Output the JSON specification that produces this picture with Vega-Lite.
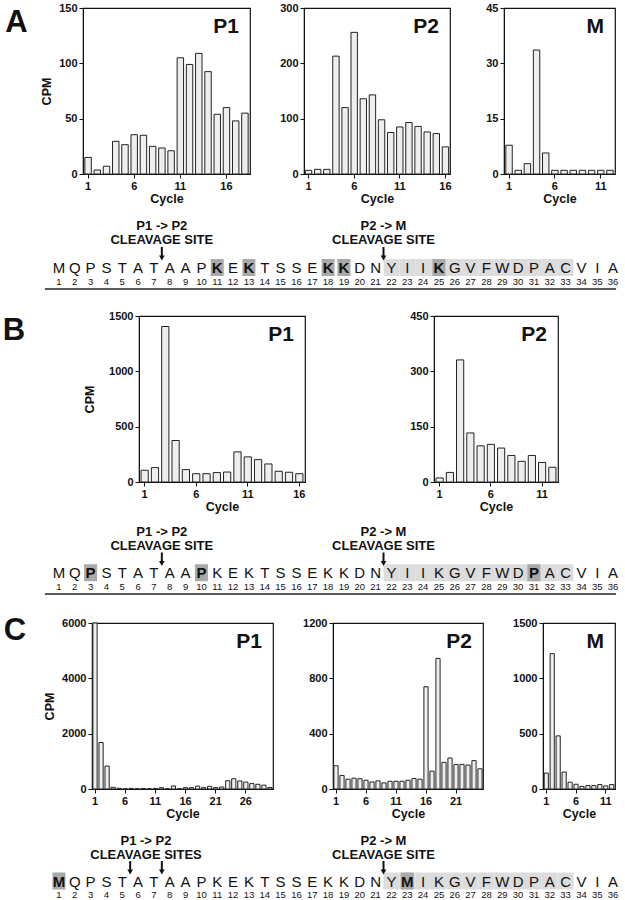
{
"$schema": "https://vega.github.io/schema/vega-lite/v6.json",
"padding": {"left": 0, "top": 1, "right": 0, "bottom": 0},
"background": "white",
"config": {
 "view": {"stroke": "#111", "strokeWidth": 1.2},
 "font": "Liberation Sans",
 "axis": {"labelFont": "Liberation Sans", "labelFontSize": 11, "labelFontWeight": "bold", "labelColor": "#111", "titleFont": "Liberation Sans", "titleFontSize": 12.5, "titleFontWeight": "bold", "titleColor": "#111", "tickColor": "#111", "domainColor": "#111", "tickSize": 4, "labelPadding": 2, "grid": false},
 "axisX": {"titlePadding": 1, "labelAngle": 0},
 "axisY": {"titlePadding": 5},
 "title": {"anchor": "end", "frame": "group", "fontSize": 21, "fontWeight": "bold", "font": "Liberation Sans", "offset": -35, "dx": -11, "baseline": "alphabetic", "color": "#111"},
 "text": {"font": "Liberation Sans", "color": "#111"}
},
"datasets": {
 "A_P1": [{"cycle":1,"cpm":15},{"cycle":2,"cpm":3.6},{"cycle":3,"cpm":7},{"cycle":4,"cpm":29.5},{"cycle":5,"cpm":26.5},{"cycle":6,"cpm":35.5},{"cycle":7,"cpm":35},{"cycle":8,"cpm":25},{"cycle":9,"cpm":23.5},{"cycle":10,"cpm":21},{"cycle":11,"cpm":105},{"cycle":12,"cpm":99},{"cycle":13,"cpm":109},{"cycle":14,"cpm":92.5},{"cycle":15,"cpm":54},{"cycle":16,"cpm":60},{"cycle":17,"cpm":48},{"cycle":18,"cpm":55}],
 "A_P2": [{"cycle":1,"cpm":6.6},{"cycle":2,"cpm":8.4},{"cycle":3,"cpm":8.4},{"cycle":4,"cpm":213},{"cycle":5,"cpm":120},{"cycle":6,"cpm":256},{"cycle":7,"cpm":136},{"cycle":8,"cpm":143},{"cycle":9,"cpm":98},{"cycle":10,"cpm":75},{"cycle":11,"cpm":85},{"cycle":12,"cpm":93},{"cycle":13,"cpm":86},{"cycle":14,"cpm":76},{"cycle":15,"cpm":73},{"cycle":16,"cpm":49}],
 "A_M": [{"cycle":1,"cpm":7.8},{"cycle":2,"cpm":1},{"cycle":3,"cpm":2.8},{"cycle":4,"cpm":33.6},{"cycle":5,"cpm":5.7},{"cycle":6,"cpm":1},{"cycle":7,"cpm":1},{"cycle":8,"cpm":1},{"cycle":9,"cpm":1},{"cycle":10,"cpm":1},{"cycle":11,"cpm":1},{"cycle":12,"cpm":1}],
 "B_P1": [{"cycle":1,"cpm":106},{"cycle":2,"cpm":130},{"cycle":3,"cpm":1405},{"cycle":4,"cpm":375},{"cycle":5,"cpm":112},{"cycle":6,"cpm":75},{"cycle":7,"cpm":75},{"cycle":8,"cpm":85},{"cycle":9,"cpm":90},{"cycle":10,"cpm":272},{"cycle":11,"cpm":227},{"cycle":12,"cpm":202},{"cycle":13,"cpm":163},{"cycle":14,"cpm":97},{"cycle":15,"cpm":88},{"cycle":16,"cpm":75}],
 "B_P2": [{"cycle":1,"cpm":11},{"cycle":2,"cpm":26},{"cycle":3,"cpm":331},{"cycle":4,"cpm":133},{"cycle":5,"cpm":98},{"cycle":6,"cpm":102},{"cycle":7,"cpm":92},{"cycle":8,"cpm":72},{"cycle":9,"cpm":56},{"cycle":10,"cpm":72},{"cycle":11,"cpm":53},{"cycle":12,"cpm":40}],
 "C_P1": [{"cycle":1,"cpm":6000},{"cycle":2,"cpm":1680},{"cycle":3,"cpm":830},{"cycle":4,"cpm":60},{"cycle":5,"cpm":25},{"cycle":6,"cpm":8},{"cycle":7,"cpm":20},{"cycle":8,"cpm":8},{"cycle":9,"cpm":20},{"cycle":10,"cpm":8},{"cycle":11,"cpm":20},{"cycle":12,"cpm":48},{"cycle":13,"cpm":8},{"cycle":14,"cpm":109},{"cycle":15,"cpm":8},{"cycle":16,"cpm":48},{"cycle":17,"cpm":48},{"cycle":18,"cpm":105},{"cycle":19,"cpm":50},{"cycle":20,"cpm":97},{"cycle":21,"cpm":50},{"cycle":22,"cpm":72},{"cycle":23,"cpm":300},{"cycle":24,"cpm":370},{"cycle":25,"cpm":290},{"cycle":26,"cpm":250},{"cycle":27,"cpm":195},{"cycle":28,"cpm":170},{"cycle":29,"cpm":140},{"cycle":30,"cpm":55}],
 "C_P2": [{"cycle":1,"cpm":168},{"cycle":2,"cpm":98},{"cycle":3,"cpm":71},{"cycle":4,"cpm":78},{"cycle":5,"cpm":74},{"cycle":6,"cpm":63},{"cycle":7,"cpm":51},{"cycle":8,"cpm":59},{"cycle":9,"cpm":44},{"cycle":10,"cpm":56},{"cycle":11,"cpm":56},{"cycle":12,"cpm":56},{"cycle":13,"cpm":63},{"cycle":14,"cpm":76},{"cycle":15,"cpm":71},{"cycle":16,"cpm":739},{"cycle":17,"cpm":129},{"cycle":18,"cpm":944},{"cycle":19,"cpm":193},{"cycle":20,"cpm":224},{"cycle":21,"cpm":178},{"cycle":22,"cpm":178},{"cycle":23,"cpm":173},{"cycle":24,"cpm":205},{"cycle":25,"cpm":146}],
 "C_M": [{"cycle":1,"cpm":144},{"cycle":2,"cpm":1223},{"cycle":3,"cpm":480},{"cycle":4,"cpm":153},{"cycle":5,"cpm":61},{"cycle":6,"cpm":43},{"cycle":7,"cpm":24},{"cycle":8,"cpm":31},{"cycle":9,"cpm":31},{"cycle":10,"cpm":40},{"cycle":11,"cpm":28},{"cycle":12,"cpm":40}],
 "resA": [{"pos":1,"aa":"M","hl":0,"mature":0},{"pos":2,"aa":"Q","hl":0,"mature":0},{"pos":3,"aa":"P","hl":0,"mature":0},{"pos":4,"aa":"S","hl":0,"mature":0},{"pos":5,"aa":"T","hl":0,"mature":0},{"pos":6,"aa":"A","hl":0,"mature":0},{"pos":7,"aa":"T","hl":0,"mature":0},{"pos":8,"aa":"A","hl":0,"mature":0},{"pos":9,"aa":"A","hl":0,"mature":0},{"pos":10,"aa":"P","hl":0,"mature":0},{"pos":11,"aa":"K","hl":1,"mature":0},{"pos":12,"aa":"E","hl":0,"mature":0},{"pos":13,"aa":"K","hl":1,"mature":0},{"pos":14,"aa":"T","hl":0,"mature":0},{"pos":15,"aa":"S","hl":0,"mature":0},{"pos":16,"aa":"S","hl":0,"mature":0},{"pos":17,"aa":"E","hl":0,"mature":0},{"pos":18,"aa":"K","hl":1,"mature":0},{"pos":19,"aa":"K","hl":1,"mature":0},{"pos":20,"aa":"D","hl":0,"mature":0},{"pos":21,"aa":"N","hl":0,"mature":0},{"pos":22,"aa":"Y","hl":0,"mature":1},{"pos":23,"aa":"I","hl":0,"mature":1},{"pos":24,"aa":"I","hl":0,"mature":1},{"pos":25,"aa":"K","hl":1,"mature":1},{"pos":26,"aa":"G","hl":0,"mature":1},{"pos":27,"aa":"V","hl":0,"mature":1},{"pos":28,"aa":"F","hl":0,"mature":1},{"pos":29,"aa":"W","hl":0,"mature":1},{"pos":30,"aa":"D","hl":0,"mature":1},{"pos":31,"aa":"P","hl":0,"mature":1},{"pos":32,"aa":"A","hl":0,"mature":1},{"pos":33,"aa":"C","hl":0,"mature":1},{"pos":34,"aa":"V","hl":0,"mature":0},{"pos":35,"aa":"I","hl":0,"mature":0},{"pos":36,"aa":"A","hl":0,"mature":0}],
 "resB": [{"pos":1,"aa":"M","hl":0,"mature":0},{"pos":2,"aa":"Q","hl":0,"mature":0},{"pos":3,"aa":"P","hl":1,"mature":0},{"pos":4,"aa":"S","hl":0,"mature":0},{"pos":5,"aa":"T","hl":0,"mature":0},{"pos":6,"aa":"A","hl":0,"mature":0},{"pos":7,"aa":"T","hl":0,"mature":0},{"pos":8,"aa":"A","hl":0,"mature":0},{"pos":9,"aa":"A","hl":0,"mature":0},{"pos":10,"aa":"P","hl":1,"mature":0},{"pos":11,"aa":"K","hl":0,"mature":0},{"pos":12,"aa":"E","hl":0,"mature":0},{"pos":13,"aa":"K","hl":0,"mature":0},{"pos":14,"aa":"T","hl":0,"mature":0},{"pos":15,"aa":"S","hl":0,"mature":0},{"pos":16,"aa":"S","hl":0,"mature":0},{"pos":17,"aa":"E","hl":0,"mature":0},{"pos":18,"aa":"K","hl":0,"mature":0},{"pos":19,"aa":"K","hl":0,"mature":0},{"pos":20,"aa":"D","hl":0,"mature":0},{"pos":21,"aa":"N","hl":0,"mature":0},{"pos":22,"aa":"Y","hl":0,"mature":1},{"pos":23,"aa":"I","hl":0,"mature":1},{"pos":24,"aa":"I","hl":0,"mature":1},{"pos":25,"aa":"K","hl":0,"mature":1},{"pos":26,"aa":"G","hl":0,"mature":1},{"pos":27,"aa":"V","hl":0,"mature":1},{"pos":28,"aa":"F","hl":0,"mature":1},{"pos":29,"aa":"W","hl":0,"mature":1},{"pos":30,"aa":"D","hl":0,"mature":1},{"pos":31,"aa":"P","hl":1,"mature":1},{"pos":32,"aa":"A","hl":0,"mature":1},{"pos":33,"aa":"C","hl":0,"mature":1},{"pos":34,"aa":"V","hl":0,"mature":0},{"pos":35,"aa":"I","hl":0,"mature":0},{"pos":36,"aa":"A","hl":0,"mature":0}],
 "resC": [{"pos":1,"aa":"M","hl":1,"mature":0},{"pos":2,"aa":"Q","hl":0,"mature":0},{"pos":3,"aa":"P","hl":0,"mature":0},{"pos":4,"aa":"S","hl":0,"mature":0},{"pos":5,"aa":"T","hl":0,"mature":0},{"pos":6,"aa":"A","hl":0,"mature":0},{"pos":7,"aa":"T","hl":0,"mature":0},{"pos":8,"aa":"A","hl":0,"mature":0},{"pos":9,"aa":"A","hl":0,"mature":0},{"pos":10,"aa":"P","hl":0,"mature":0},{"pos":11,"aa":"K","hl":0,"mature":0},{"pos":12,"aa":"E","hl":0,"mature":0},{"pos":13,"aa":"K","hl":0,"mature":0},{"pos":14,"aa":"T","hl":0,"mature":0},{"pos":15,"aa":"S","hl":0,"mature":0},{"pos":16,"aa":"S","hl":0,"mature":0},{"pos":17,"aa":"E","hl":0,"mature":0},{"pos":18,"aa":"K","hl":0,"mature":0},{"pos":19,"aa":"K","hl":0,"mature":0},{"pos":20,"aa":"D","hl":0,"mature":0},{"pos":21,"aa":"N","hl":0,"mature":0},{"pos":22,"aa":"Y","hl":0,"mature":1},{"pos":23,"aa":"M","hl":1,"mature":1},{"pos":24,"aa":"I","hl":0,"mature":1},{"pos":25,"aa":"K","hl":0,"mature":1},{"pos":26,"aa":"G","hl":0,"mature":1},{"pos":27,"aa":"V","hl":0,"mature":1},{"pos":28,"aa":"F","hl":0,"mature":1},{"pos":29,"aa":"W","hl":0,"mature":1},{"pos":30,"aa":"D","hl":0,"mature":1},{"pos":31,"aa":"P","hl":0,"mature":1},{"pos":32,"aa":"A","hl":0,"mature":1},{"pos":33,"aa":"C","hl":0,"mature":1},{"pos":34,"aa":"V","hl":0,"mature":0},{"pos":35,"aa":"I","hl":0,"mature":0},{"pos":36,"aa":"A","hl":0,"mature":0}],
 "sitesA": [{"pos":7.5,"l1":"P1 -> P2","l2":"CLEAVAGE SITE"},{"pos":21.5,"l1":"P2 -> M","l2":"CLEAVAGE SITE"}],
 "sitesC": [{"pos":6.5,"l1":"P1 -> P2","l2":"CLEAVAGE SITES"},{"pos":21.5,"l1":"P2 -> M","l2":"CLEAVAGE SITE"}],
 "cutsA": [{"pos":7.5},{"pos":21.5}],
 "cutsC": [{"pos":5.5},{"pos":7.5},{"pos":21.5}],
 "panels": [{"panel":"A"},{"panel":"B"},{"panel":"C"}]
},
"spacing": 0,
"vconcat": [
 {"hconcat": [
  {"data": {"name": "panels"}, "transform": [{"filter": "datum.panel == 'A'"}], "width": 29, "height": 30, "view": {"stroke": null}, "mark": {"type": "text", "fontSize": 31, "fontWeight": "bold", "dx": 2}, "encoding": {"text": {"field": "panel"}}},
  {"data": {"name": "A_P1"}, "width": 167, "height": 166, "title": "P1",
   "mark": {"type": "bar", "fill": "#eeeeee", "stroke": "#222", "strokeWidth": 1},
   "encoding": {"x": {"field": "cycle", "type": "ordinal", "scale": {"paddingInner": 0.3, "paddingOuter": 0.2}, "axis": {"values": [1,6,11,16], "title": "Cycle"}},
    "y": {"field": "cpm", "type": "quantitative", "scale": {"domain": [0,150]}, "axis": {"values": [0,50,100,150], "format": "d", "title": "CPM"}}}},
  {"data": {"name": "A_P2"}, "width": 146, "height": 166, "title": "P2",
   "mark": {"type": "bar", "fill": "#eeeeee", "stroke": "#222", "strokeWidth": 1},
   "encoding": {"x": {"field": "cycle", "type": "ordinal", "scale": {"paddingInner": 0.3, "paddingOuter": 0.15}, "axis": {"values": [1,6,11,16], "title": "Cycle"}},
    "y": {"field": "cpm", "type": "quantitative", "scale": {"domain": [0,300]}, "axis": {"values": [0,100,200,300], "format": "d", "title": null}}}},
  {"data": {"name": "A_M"}, "width": 111, "height": 166, "title": "M",
   "mark": {"type": "bar", "fill": "#eeeeee", "stroke": "#222", "strokeWidth": 1},
   "encoding": {"x": {"field": "cycle", "type": "ordinal", "scale": {"paddingInner": 0.3, "paddingOuter": 0.2}, "axis": {"values": [1,6,11], "title": "Cycle"}},
    "y": {"field": "cpm", "type": "quantitative", "scale": {"domain": [0,45]}, "axis": {"values": [0,15,30,45], "format": "d", "title": null}}}}
 ], "spacing": 54, "bounds": "flush"},
 {"width": 625, "height": 103, "view": {"stroke": null},
  "layer": [
   {"data": {"name": "resA"}, "transform": [{"filter": "datum.mature == 1"}], "mark": {"type": "rect", "fill": "#dcdcdc", "xOffset": -7.9, "x2Offset": 7.9, "yOffset": -9, "y2Offset": 8},
    "encoding": {"x": {"field": "pos", "type": "quantitative", "scale": {"domain": [0.5,36.5], "range": [51,621], "nice": false, "zero": false}, "axis": null}, "x2": {"field": "pos"},
     "y": {"datum": "aa", "type": "ordinal", "scale": {"type": "point", "domain": ["l1","l2","arrow","aa","num"], "range": [20,76], "padding": 0}, "axis": null}, "y2": {"datum": "aa"}}},
   {"data": {"name": "resA"}, "transform": [{"filter": "datum.hl == 1"}], "mark": {"type": "rect", "fill": "#a9a9a9", "xOffset": -6.5, "x2Offset": 6.5, "yOffset": -9, "y2Offset": 8},
    "encoding": {"x": {"field": "pos", "type": "quantitative", "scale": {"domain": [0.5,36.5], "range": [51,621], "nice": false, "zero": false}, "axis": null}, "x2": {"field": "pos"},
     "y": {"datum": "aa", "type": "ordinal", "scale": {"type": "point", "domain": ["l1","l2","arrow","aa","num"], "range": [20,76], "padding": 0}, "axis": null}, "y2": {"datum": "aa"}}},
   {"data": {"name": "resA"}, "transform": [{"filter": "datum.hl == 0"}], "mark": {"type": "text", "fontSize": 15},
    "encoding": {"x": {"field": "pos", "type": "quantitative", "scale": {"domain": [0.5,36.5], "range": [51,621], "nice": false, "zero": false}, "axis": null},
     "y": {"datum": "aa", "type": "ordinal", "scale": {"type": "point", "domain": ["l1","l2","arrow","aa","num"], "range": [20,76], "padding": 0}, "axis": null}, "text": {"field": "aa"}}},
   {"data": {"name": "resA"}, "transform": [{"filter": "datum.hl == 1"}], "mark": {"type": "text", "fontSize": 15, "fontWeight": "bold"},
    "encoding": {"x": {"field": "pos", "type": "quantitative", "scale": {"domain": [0.5,36.5], "range": [51,621], "nice": false, "zero": false}, "axis": null},
     "y": {"datum": "aa", "type": "ordinal", "scale": {"type": "point", "domain": ["l1","l2","arrow","aa","num"], "range": [20,76], "padding": 0}, "axis": null}, "text": {"field": "aa"}}},
   {"data": {"name": "resA"}, "mark": {"type": "text", "fontSize": 9.5},
    "encoding": {"x": {"field": "pos", "type": "quantitative", "scale": {"domain": [0.5,36.5], "range": [51,621], "nice": false, "zero": false}, "axis": null},
     "y": {"datum": "num", "type": "ordinal", "scale": {"type": "point", "domain": ["l1","l2","arrow","aa","num"], "range": [20,76], "padding": 0}, "axis": null}, "text": {"field": "pos", "type": "quantitative"}}},
   {"data": {"name": "cutsA"}, "mark": {"type": "rule", "stroke": "#111", "strokeWidth": 2, "yOffset": -7, "y2Offset": 2},
    "encoding": {"x": {"field": "pos", "type": "quantitative", "scale": {"domain": [0.5,36.5], "range": [51,621], "nice": false, "zero": false}, "axis": null},
     "y": {"datum": "arrow", "type": "ordinal", "scale": {"type": "point", "domain": ["l1","l2","arrow","aa","num"], "range": [20,76], "padding": 0}, "axis": null}, "y2": {"datum": "arrow"}}},
   {"data": {"name": "cutsA"}, "mark": {"type": "point", "shape": "triangle-down", "filled": true, "fill": "#111", "opacity": 1, "size": 32, "yOffset": 4},
    "encoding": {"x": {"field": "pos", "type": "quantitative", "scale": {"domain": [0.5,36.5], "range": [51,621], "nice": false, "zero": false}, "axis": null},
     "y": {"datum": "arrow", "type": "ordinal", "scale": {"type": "point", "domain": ["l1","l2","arrow","aa","num"], "range": [20,76], "padding": 0}, "axis": null}}},
   {"data": {"name": "sitesA"}, "mark": {"type": "text", "fontSize": 13, "fontWeight": "bold"},
    "encoding": {"x": {"field": "pos", "type": "quantitative", "scale": {"domain": [0.5,36.5], "range": [51,621], "nice": false, "zero": false}, "axis": null},
     "y": {"datum": "l1", "type": "ordinal", "scale": {"type": "point", "domain": ["l1","l2","arrow","aa","num"], "range": [20,76], "padding": 0}, "axis": null}, "text": {"field": "l1"}}},
   {"data": {"name": "sitesA"}, "mark": {"type": "text", "fontSize": 13, "fontWeight": "bold"},
    "encoding": {"x": {"field": "pos", "type": "quantitative", "scale": {"domain": [0.5,36.5], "range": [51,621], "nice": false, "zero": false}, "axis": null},
     "y": {"datum": "l2", "type": "ordinal", "scale": {"type": "point", "domain": ["l1","l2","arrow","aa","num"], "range": [20,76], "padding": 0}, "axis": null}, "text": {"field": "l2"}}},
   {"data": {"name": "resA"}, "mark": {"type": "rule", "stroke": "#222", "strokeWidth": 1.3, "xOffset": -14, "x2Offset": 3, "yOffset": 7},
    "encoding": {"x": {"aggregate": "min", "field": "pos", "type": "quantitative", "scale": {"domain": [0.5,36.5], "range": [51,621], "nice": false, "zero": false}, "axis": null}, "x2": {"aggregate": "max", "field": "pos"},
     "y": {"datum": "num", "type": "ordinal", "scale": {"type": "point", "domain": ["l1","l2","arrow","aa","num"], "range": [20,76], "padding": 0}, "axis": null}}}
  ]},
 {"hconcat": [
  {"data": {"name": "panels"}, "transform": [{"filter": "datum.panel == 'B'"}], "width": 10, "height": 30, "view": {"stroke": null}, "mark": {"type": "text", "fontSize": 31, "fontWeight": "bold", "dx": 9}, "encoding": {"text": {"field": "panel"}}},
  {"data": {"name": "B_P1"}, "width": 166, "height": 166, "title": "P1",
   "mark": {"type": "bar", "fill": "#eeeeee", "stroke": "#222", "strokeWidth": 1},
   "encoding": {"x": {"field": "cycle", "type": "ordinal", "scale": {"paddingInner": 0.3, "paddingOuter": 0.2}, "axis": {"values": [1,6,11,16], "title": "Cycle"}},
    "y": {"field": "cpm", "type": "quantitative", "scale": {"domain": [0,1500]}, "axis": {"values": [0,500,1000,1500], "format": "d", "title": "CPM", "titlePadding": 12}}}},
  {"data": {"name": "B_P2"}, "width": 124, "height": 166, "title": "P2",
   "mark": {"type": "bar", "fill": "#eeeeee", "stroke": "#222", "strokeWidth": 1},
   "encoding": {"x": {"field": "cycle", "type": "ordinal", "scale": {"paddingInner": 0.3, "paddingOuter": 0.2}, "axis": {"values": [1,6,11], "title": "Cycle"}},
    "y": {"field": "cpm", "type": "quantitative", "scale": {"domain": [0,450]}, "axis": {"values": [0,150,300,450], "format": "d", "title": null}}}}
 ], "spacing": 129, "bounds": "flush"},
 {"width": 625, "height": 101, "view": {"stroke": null},
  "layer": [
   {"data": {"name": "resB"}, "transform": [{"filter": "datum.mature == 1"}], "mark": {"type": "rect", "fill": "#dcdcdc", "xOffset": -7.9, "x2Offset": 7.9, "yOffset": -9, "y2Offset": 8},
    "encoding": {"x": {"field": "pos", "type": "quantitative", "scale": {"domain": [0.5,36.5], "range": [51,621], "nice": false, "zero": false}, "axis": null}, "x2": {"field": "pos"},
     "y": {"datum": "aa", "type": "ordinal", "scale": {"type": "point", "domain": ["l1","l2","arrow","aa","num"], "range": [18,73], "padding": 0}, "axis": null}, "y2": {"datum": "aa"}}},
   {"data": {"name": "resB"}, "transform": [{"filter": "datum.hl == 1"}], "mark": {"type": "rect", "fill": "#a9a9a9", "xOffset": -6.5, "x2Offset": 6.5, "yOffset": -9, "y2Offset": 8},
    "encoding": {"x": {"field": "pos", "type": "quantitative", "scale": {"domain": [0.5,36.5], "range": [51,621], "nice": false, "zero": false}, "axis": null}, "x2": {"field": "pos"},
     "y": {"datum": "aa", "type": "ordinal", "scale": {"type": "point", "domain": ["l1","l2","arrow","aa","num"], "range": [18,73], "padding": 0}, "axis": null}, "y2": {"datum": "aa"}}},
   {"data": {"name": "resB"}, "transform": [{"filter": "datum.hl == 0"}], "mark": {"type": "text", "fontSize": 15},
    "encoding": {"x": {"field": "pos", "type": "quantitative", "scale": {"domain": [0.5,36.5], "range": [51,621], "nice": false, "zero": false}, "axis": null},
     "y": {"datum": "aa", "type": "ordinal", "scale": {"type": "point", "domain": ["l1","l2","arrow","aa","num"], "range": [18,73], "padding": 0}, "axis": null}, "text": {"field": "aa"}}},
   {"data": {"name": "resB"}, "transform": [{"filter": "datum.hl == 1"}], "mark": {"type": "text", "fontSize": 15, "fontWeight": "bold"},
    "encoding": {"x": {"field": "pos", "type": "quantitative", "scale": {"domain": [0.5,36.5], "range": [51,621], "nice": false, "zero": false}, "axis": null},
     "y": {"datum": "aa", "type": "ordinal", "scale": {"type": "point", "domain": ["l1","l2","arrow","aa","num"], "range": [18,73], "padding": 0}, "axis": null}, "text": {"field": "aa"}}},
   {"data": {"name": "resB"}, "mark": {"type": "text", "fontSize": 9.5},
    "encoding": {"x": {"field": "pos", "type": "quantitative", "scale": {"domain": [0.5,36.5], "range": [51,621], "nice": false, "zero": false}, "axis": null},
     "y": {"datum": "num", "type": "ordinal", "scale": {"type": "point", "domain": ["l1","l2","arrow","aa","num"], "range": [18,73], "padding": 0}, "axis": null}, "text": {"field": "pos", "type": "quantitative"}}},
   {"data": {"name": "cutsA"}, "mark": {"type": "rule", "stroke": "#111", "strokeWidth": 2, "yOffset": -7, "y2Offset": 2},
    "encoding": {"x": {"field": "pos", "type": "quantitative", "scale": {"domain": [0.5,36.5], "range": [51,621], "nice": false, "zero": false}, "axis": null},
     "y": {"datum": "arrow", "type": "ordinal", "scale": {"type": "point", "domain": ["l1","l2","arrow","aa","num"], "range": [18,73], "padding": 0}, "axis": null}, "y2": {"datum": "arrow"}}},
   {"data": {"name": "cutsA"}, "mark": {"type": "point", "shape": "triangle-down", "filled": true, "fill": "#111", "opacity": 1, "size": 32, "yOffset": 4},
    "encoding": {"x": {"field": "pos", "type": "quantitative", "scale": {"domain": [0.5,36.5], "range": [51,621], "nice": false, "zero": false}, "axis": null},
     "y": {"datum": "arrow", "type": "ordinal", "scale": {"type": "point", "domain": ["l1","l2","arrow","aa","num"], "range": [18,73], "padding": 0}, "axis": null}}},
   {"data": {"name": "sitesA"}, "mark": {"type": "text", "fontSize": 13, "fontWeight": "bold"},
    "encoding": {"x": {"field": "pos", "type": "quantitative", "scale": {"domain": [0.5,36.5], "range": [51,621], "nice": false, "zero": false}, "axis": null},
     "y": {"datum": "l1", "type": "ordinal", "scale": {"type": "point", "domain": ["l1","l2","arrow","aa","num"], "range": [18,73], "padding": 0}, "axis": null}, "text": {"field": "l1"}}},
   {"data": {"name": "sitesA"}, "mark": {"type": "text", "fontSize": 13, "fontWeight": "bold"},
    "encoding": {"x": {"field": "pos", "type": "quantitative", "scale": {"domain": [0.5,36.5], "range": [51,621], "nice": false, "zero": false}, "axis": null},
     "y": {"datum": "l2", "type": "ordinal", "scale": {"type": "point", "domain": ["l1","l2","arrow","aa","num"], "range": [18,73], "padding": 0}, "axis": null}, "text": {"field": "l2"}}},
   {"data": {"name": "resB"}, "mark": {"type": "rule", "stroke": "#222", "strokeWidth": 1.3, "xOffset": -14, "x2Offset": 3, "yOffset": 7},
    "encoding": {"x": {"aggregate": "min", "field": "pos", "type": "quantitative", "scale": {"domain": [0.5,36.5], "range": [51,621], "nice": false, "zero": false}, "axis": null}, "x2": {"aggregate": "max", "field": "pos"},
     "y": {"datum": "num", "type": "ordinal", "scale": {"type": "point", "domain": ["l1","l2","arrow","aa","num"], "range": [18,73], "padding": 0}, "axis": null}}}
  ]},
 {"hconcat": [
  {"data": {"name": "panels"}, "transform": [{"filter": "datum.panel == 'C'"}], "width": 32, "height": 16, "view": {"stroke": null}, "mark": {"type": "text", "fontSize": 31, "fontWeight": "bold", "dx": -1}, "encoding": {"text": {"field": "panel"}}},
  {"data": {"name": "C_P1"}, "width": 181, "height": 166, "title": "P1",
   "mark": {"type": "bar", "fill": "#eeeeee", "stroke": "#222", "strokeWidth": 1},
   "encoding": {"x": {"field": "cycle", "type": "ordinal", "scale": {"paddingInner": 0.3, "paddingOuter": 0.15}, "axis": {"values": [1,6,11,16,21,26], "title": "Cycle"}},
    "y": {"field": "cpm", "type": "quantitative", "scale": {"domain": [0,6000]}, "axis": {"values": [0,2000,4000,6000], "format": "d", "title": "CPM"}}}},
  {"data": {"name": "C_P2"}, "width": 150, "height": 166, "title": "P2",
   "mark": {"type": "bar", "fill": "#eeeeee", "stroke": "#222", "strokeWidth": 1},
   "encoding": {"x": {"field": "cycle", "type": "ordinal", "scale": {"paddingInner": 0.3, "paddingOuter": 0.15}, "axis": {"values": [1,6,11,16,21], "title": "Cycle"}},
    "y": {"field": "cpm", "type": "quantitative", "scale": {"domain": [0,1200]}, "axis": {"values": [0,400,800,1200], "format": "d", "title": null}}}},
  {"data": {"name": "C_M"}, "width": 72, "height": 166, "title": "M",
   "mark": {"type": "bar", "fill": "#eeeeee", "stroke": "#222", "strokeWidth": 1},
   "encoding": {"x": {"field": "cycle", "type": "ordinal", "scale": {"paddingInner": 0.3, "paddingOuter": 0.2}, "axis": {"values": [1,6,11], "title": "Cycle"}},
    "y": {"field": "cpm", "type": "quantitative", "scale": {"domain": [0,1500]}, "axis": {"values": [0,500,1000,1500], "format": "d", "title": null}}}}
 ], "spacing": 60, "bounds": "flush"},
 {"width": 625, "height": 78, "view": {"stroke": null},
  "layer": [
   {"data": {"name": "resC"}, "transform": [{"filter": "datum.mature == 1"}], "mark": {"type": "rect", "fill": "#dcdcdc", "xOffset": -7.9, "x2Offset": 7.9, "yOffset": -9, "y2Offset": 8},
    "encoding": {"x": {"field": "pos", "type": "quantitative", "scale": {"domain": [0.5,36.5], "range": [51,621], "nice": false, "zero": false}, "axis": null}, "x2": {"field": "pos"},
     "y": {"datum": "aa", "type": "ordinal", "scale": {"type": "point", "domain": ["l1","l2","arrow","aa","num"], "range": [20,74], "padding": 0}, "axis": null}, "y2": {"datum": "aa"}}},
   {"data": {"name": "resC"}, "transform": [{"filter": "datum.hl == 1"}], "mark": {"type": "rect", "fill": "#a9a9a9", "xOffset": -6.5, "x2Offset": 6.5, "yOffset": -9, "y2Offset": 8},
    "encoding": {"x": {"field": "pos", "type": "quantitative", "scale": {"domain": [0.5,36.5], "range": [51,621], "nice": false, "zero": false}, "axis": null}, "x2": {"field": "pos"},
     "y": {"datum": "aa", "type": "ordinal", "scale": {"type": "point", "domain": ["l1","l2","arrow","aa","num"], "range": [20,74], "padding": 0}, "axis": null}, "y2": {"datum": "aa"}}},
   {"data": {"name": "resC"}, "transform": [{"filter": "datum.hl == 0"}], "mark": {"type": "text", "fontSize": 15},
    "encoding": {"x": {"field": "pos", "type": "quantitative", "scale": {"domain": [0.5,36.5], "range": [51,621], "nice": false, "zero": false}, "axis": null},
     "y": {"datum": "aa", "type": "ordinal", "scale": {"type": "point", "domain": ["l1","l2","arrow","aa","num"], "range": [20,74], "padding": 0}, "axis": null}, "text": {"field": "aa"}}},
   {"data": {"name": "resC"}, "transform": [{"filter": "datum.hl == 1"}], "mark": {"type": "text", "fontSize": 15, "fontWeight": "bold"},
    "encoding": {"x": {"field": "pos", "type": "quantitative", "scale": {"domain": [0.5,36.5], "range": [51,621], "nice": false, "zero": false}, "axis": null},
     "y": {"datum": "aa", "type": "ordinal", "scale": {"type": "point", "domain": ["l1","l2","arrow","aa","num"], "range": [20,74], "padding": 0}, "axis": null}, "text": {"field": "aa"}}},
   {"data": {"name": "resC"}, "mark": {"type": "text", "fontSize": 9.5},
    "encoding": {"x": {"field": "pos", "type": "quantitative", "scale": {"domain": [0.5,36.5], "range": [51,621], "nice": false, "zero": false}, "axis": null},
     "y": {"datum": "num", "type": "ordinal", "scale": {"type": "point", "domain": ["l1","l2","arrow","aa","num"], "range": [20,74], "padding": 0}, "axis": null}, "text": {"field": "pos", "type": "quantitative"}}},
   {"data": {"name": "cutsC"}, "mark": {"type": "rule", "stroke": "#111", "strokeWidth": 2, "yOffset": -7, "y2Offset": 2},
    "encoding": {"x": {"field": "pos", "type": "quantitative", "scale": {"domain": [0.5,36.5], "range": [51,621], "nice": false, "zero": false}, "axis": null},
     "y": {"datum": "arrow", "type": "ordinal", "scale": {"type": "point", "domain": ["l1","l2","arrow","aa","num"], "range": [20,74], "padding": 0}, "axis": null}, "y2": {"datum": "arrow"}}},
   {"data": {"name": "cutsC"}, "mark": {"type": "point", "shape": "triangle-down", "filled": true, "fill": "#111", "opacity": 1, "size": 32, "yOffset": 4},
    "encoding": {"x": {"field": "pos", "type": "quantitative", "scale": {"domain": [0.5,36.5], "range": [51,621], "nice": false, "zero": false}, "axis": null},
     "y": {"datum": "arrow", "type": "ordinal", "scale": {"type": "point", "domain": ["l1","l2","arrow","aa","num"], "range": [20,74], "padding": 0}, "axis": null}}},
   {"data": {"name": "sitesC"}, "mark": {"type": "text", "fontSize": 13, "fontWeight": "bold"},
    "encoding": {"x": {"field": "pos", "type": "quantitative", "scale": {"domain": [0.5,36.5], "range": [51,621], "nice": false, "zero": false}, "axis": null},
     "y": {"datum": "l1", "type": "ordinal", "scale": {"type": "point", "domain": ["l1","l2","arrow","aa","num"], "range": [20,74], "padding": 0}, "axis": null}, "text": {"field": "l1"}}},
   {"data": {"name": "sitesC"}, "mark": {"type": "text", "fontSize": 13, "fontWeight": "bold"},
    "encoding": {"x": {"field": "pos", "type": "quantitative", "scale": {"domain": [0.5,36.5], "range": [51,621], "nice": false, "zero": false}, "axis": null},
     "y": {"datum": "l2", "type": "ordinal", "scale": {"type": "point", "domain": ["l1","l2","arrow","aa","num"], "range": [20,74], "padding": 0}, "axis": null}, "text": {"field": "l2"}}}
  ]}
]
}
